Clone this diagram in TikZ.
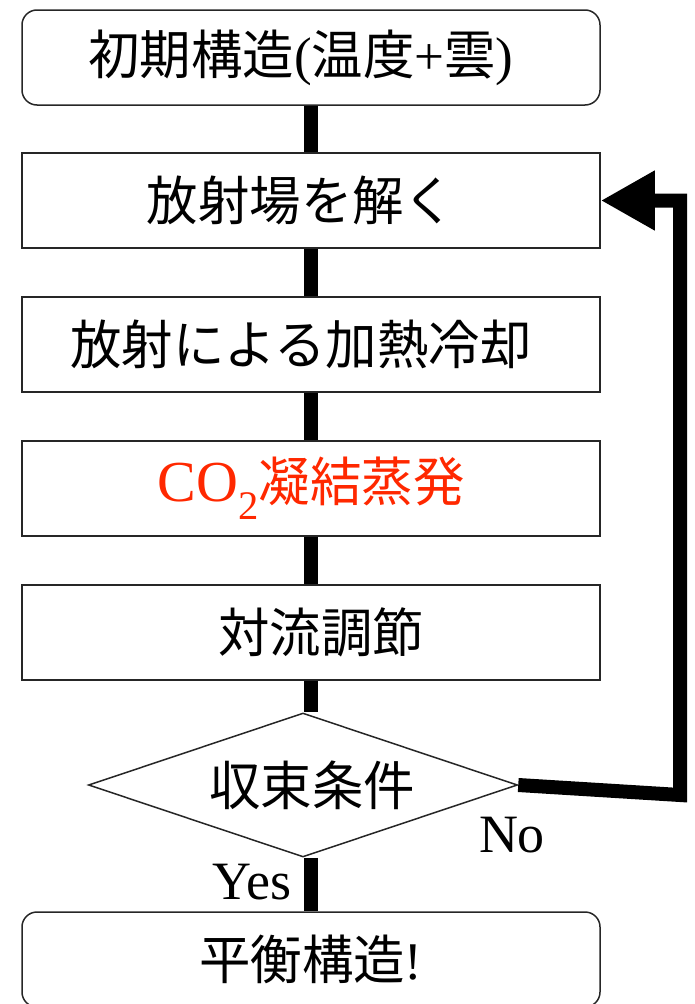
\documentclass[tikz,border=0pt]{standalone}
\usepackage{fontspec}
\setmainfont{Liberation Serif}
\newfontfamily\cjk[FakeStretch=0.97]{Noto Sans CJK JP}
\usetikzlibrary{arrows.meta,shapes.geometric}
\definecolor{redtxt}{RGB}{255,40,0}
\tikzset{
  stepbox/.style={draw=black!85,line width=1.5pt,minimum width=578pt,minimum height=95pt,inner sep=0pt,font=\fontsize{53pt}{58pt}\selectfont},
  endbox/.style={stepbox,rounded corners=15pt},
  decision/.style={draw=black!85,line width=1.5pt,diamond,aspect=2.98,minimum width=429pt,minimum height=144pt,inner sep=0pt,font=\fontsize{53pt}{58pt}\selectfont},
  flow/.style={line width=14pt,black},
  lbl/.style={font=\fontsize{54pt}{58pt}\selectfont,inner sep=0pt}
}
\begin{document}
\begin{tikzpicture}[x=1pt,y=1pt]
\useasboundingbox (0,0) rectangle (695,-1004);
\node[endbox] (b1) at (311,-57.5) {\hspace*{-20pt}{\cjk 初期構造}(\cjk 温度\normalfont+\cjk 雲\normalfont)};
\node[stepbox] (b2) at (311,-200.5) {\hspace*{-20pt}\cjk 放射場を解く};
\node[stepbox] (b3) at (311,-344.5) {\hspace*{-20pt}\cjk 放射による加熱冷却};
\node[stepbox] (b4) at (311,-488.5) {\color{redtxt}{\fontsize{58pt}{60pt}\selectfont CO\textsubscript{2}}{\cjk 凝結蒸発}};
\node[stepbox] (b5) at (311,-632.5) {\hspace*{20pt}\cjk 対流調節};
\node[decision] (d) at (303,-785) {\hspace*{18pt}\cjk 収束条件};
\node[endbox] (b6) at (311,-959.5) {\cjk 平衡構造\normalfont !};
\node[lbl] (yes) at (252,-882) {Yes};
\node[lbl] (no) at (512,-835) {No};
\coordinate (r1) at (680,-795);
\draw[flow] (b1.south) -- (b2.north);
\draw[flow] (b2.south) -- (b3.north);
\draw[flow] (b3.south) -- (b4.north);
\draw[flow] (b4.south) -- (b5.north);
\draw[flow] (b5.south) -- (b5.south |- d.north);
\draw[flow] (b6.north |- d.south) -- (b6.north);
\draw[flow,-{Triangle[length=54pt,width=56pt]},miter limit=4] (d.east) -- (r1) |- (b2.east);
\end{tikzpicture}
\end{document}
